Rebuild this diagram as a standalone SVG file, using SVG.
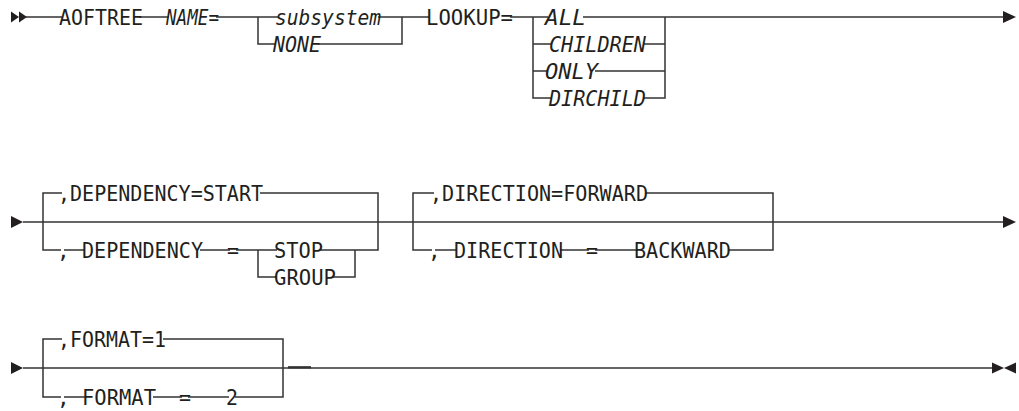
<svg xmlns="http://www.w3.org/2000/svg" width="1019" height="411" viewBox="0 0 1019 411">
<style>
  .bg { fill: #ffffff; }
  .ln { fill: none; stroke: #333333; stroke-width: 1.5; stroke-linecap: butt; stroke-linejoin: miter; }
  .mk { fill: #231f20; }
  text { font-family: "DejaVu Sans Mono", "Liberation Mono", monospace; font-size: 21px; fill: #231f20; }
  .it { font-style: italic; }
</style>
<rect class="bg" x="0" y="0" width="1019" height="411"/>

<g id="connectors">
  <!-- line 1 -->
  <polygon class="mk" points="11,11.5 19,17 11,22.5"/>
  <polygon class="mk" points="19,11.5 27,17 19,22.5"/>
  <path class="ln" d="M26,17 H62 M139,17 H169 M216,17 H279 M378,17 H429 M510,17 H548 M583,17 H1004"/>
  <path class="ln" d="M258,17 V44 H276 M318,44 H402 V17"/>
  <path class="ln" d="M533,17 V98 H552 M533,44 H552 M533,71 H548"/>
  <path class="ln" d="M643,44 H665 M595,71 H665 M643,98 H665 V17"/>
  <polygon class="mk" points="1003,11 1016,17 1003,23"/>

  <!-- line 2 -->
  <polygon class="mk" points="11,216 23,222 11,228"/>
  <path class="ln" d="M23,222 H1004"/>
  <path class="ln" d="M62,193 H43 V250 H61 M64,250 H85 M200,250 H230 M236,250 H277 M320,250 H378 V193 H260"/>
  <path class="ln" d="M258,250 V277 H277 M333,277 H355 V250"/>
  <path class="ln" d="M434,193 H413 V250 H432 M435,250 H457 M560,250 H589 M595,250 H637 M728,250 H773 V193 H645"/>
  <polygon class="mk" points="1003,216 1016,222 1003,228"/>

  <!-- line 3 -->
  <polygon class="mk" points="11,362 23,368 11,374"/>
  <path class="ln" d="M23,368 H993"/>
  <path class="ln" d="M288,367.3 H311" style="stroke-width:2.3"/>
  <path class="ln" d="M62,339 H43 V397 H61 M64,397 H85 M153,397 H182 M188,397 H229 M235,397 H283 V339 H163"/>
  <polygon class="mk" points="992,362.5 1004,368 992,373.5"/>
  <polygon class="mk" points="1016,362.5 1004,368 1016,373.5"/>
</g>

<g id="node-aoftree"><text x="59" y="24.5" textLength="84" lengthAdjust="spacingAndGlyphs">AOFTREE</text></g>
<g id="node-name"><text class="it" x="166" y="24.5" textLength="53" lengthAdjust="spacingAndGlyphs">NAME=</text></g>
<g id="node-subsystem"><text class="it" x="275" y="24.5" textLength="106" lengthAdjust="spacingAndGlyphs">subsystem</text></g>
<g id="node-none"><text class="it" x="273" y="51.5" textLength="48" lengthAdjust="spacingAndGlyphs">NONE</text></g>
<g id="node-lookup"><text x="426" y="24.5" textLength="87" lengthAdjust="spacingAndGlyphs">LOOKUP=</text></g>
<g id="node-all"><text class="it" x="545" y="24.5" textLength="41" lengthAdjust="spacingAndGlyphs">ALL</text></g>
<g id="node-children"><text class="it" x="549" y="51.5" textLength="97" lengthAdjust="spacingAndGlyphs">CHILDREN</text></g>
<g id="node-only"><text class="it" x="545" y="78.5" textLength="53" lengthAdjust="spacingAndGlyphs">ONLY</text></g>
<g id="node-dirchild"><text class="it" x="549" y="105.5" textLength="97" lengthAdjust="spacingAndGlyphs">DIRCHILD</text></g>

<g id="node-dependency-start"><text x="58" y="200.5" textLength="205" lengthAdjust="spacingAndGlyphs">,DEPENDENCY=START</text></g>
<g id="node-dependency">
  <text x="57" y="257.5">,</text>
  <text x="82" y="257.5" textLength="121" lengthAdjust="spacingAndGlyphs">DEPENDENCY</text>
  <text x="227" y="257.5" textLength="12" lengthAdjust="spacingAndGlyphs">=</text>
</g>
<g id="node-stop"><text x="274" y="257.5" textLength="49" lengthAdjust="spacingAndGlyphs">STOP</text></g>
<g id="node-group"><text x="274" y="284.5" textLength="62" lengthAdjust="spacingAndGlyphs">GROUP</text></g>

<g id="node-direction-forward"><text x="430" y="200.5" textLength="218" lengthAdjust="spacingAndGlyphs">,DIRECTION=FORWARD</text></g>
<g id="node-direction">
  <text x="428" y="257.5">,</text>
  <text x="454" y="257.5" textLength="109" lengthAdjust="spacingAndGlyphs">DIRECTION</text>
  <text x="586" y="257.5" textLength="12" lengthAdjust="spacingAndGlyphs">=</text>
</g>
<g id="node-backward"><text x="634" y="257.5" textLength="97" lengthAdjust="spacingAndGlyphs">BACKWARD</text></g>

<g id="node-format-1"><text x="58" y="346.5" textLength="108" lengthAdjust="spacingAndGlyphs">,FORMAT=1</text></g>
<g id="node-format">
  <text x="57" y="404.5">,</text>
  <text x="82" y="404.5" textLength="74" lengthAdjust="spacingAndGlyphs">FORMAT</text>
  <text x="179" y="404.5" textLength="12" lengthAdjust="spacingAndGlyphs">=</text>
</g>
<g id="node-2"><text x="226" y="404.5" textLength="12" lengthAdjust="spacingAndGlyphs">2</text></g>
</svg>
